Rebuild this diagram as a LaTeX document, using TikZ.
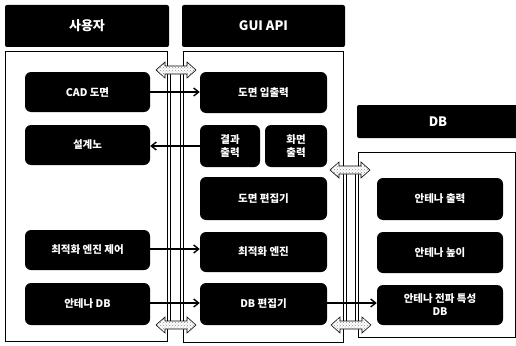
\documentclass[tikz,border=0pt]{standalone}
\usepackage{fontspec}
\setmainfont{Noto Sans CJK KR}
\usetikzlibrary{arrows.meta,patterns}
\begin{document}
\begin{tikzpicture}[x=1pt,y=-1pt,
  header/.style={fill=black,rounded corners=2pt,text=white,font=\bfseries\fontsize{13}{15}\selectfont},
  panel/.style={draw=black,line width=0.8pt},
  box/.style={fill=black,rounded corners=6pt,text=white,align=center,inner sep=1pt,font=\bfseries\fontsize{10.5}{13}\selectfont},
  bus/.style={line width=0.8pt},
  arr/.style={line width=1.4pt,-{Straight Barb[length=5pt,width=8pt]}},
  blkstyle/.style={draw=black,line width=0.6pt,fill=white,preaction={fill=white},postaction={pattern=crosshatch dots,pattern color=gray!90}},
  dblarrow/.pic={\path[blkstyle] (-20,0) -- (-11,-8) -- (-11,-4) -- (11,-4) -- (11,-8) -- (20,0) -- (11,8) -- (11,4) -- (-11,4) -- (-11,8) -- cycle;}]
\useasboundingbox (0,0) rectangle (516,345);
% headers
\node[header,minimum width=164pt,minimum height=42pt] (hu) at (87,26) {사용자};
\node[header,minimum width=163pt,minimum height=42pt] (hg) at (263.5,26) {GUI API};
\node[header,minimum width=162pt,minimum height=33pt] (hd) at (438,121.5) {DB};
% panels
\draw[panel] (5,51) rectangle (167,341);
\draw[panel] (183,51) rectangle (343,342);
\draw[panel] (358,152) rectangle (515,337);
% bus lines
\coordinate (b1t) at (170,70); \coordinate (b1b) at (170,325);
\coordinate (b2t) at (180,70); \coordinate (b2b) at (180,325);
\coordinate (b3t) at (346,170); \coordinate (b3b) at (346,325);
\coordinate (b4t) at (355,170); \coordinate (b4b) at (355,325);
\draw[bus] (b1t) -- (b1b); \draw[bus] (b2t) -- (b2b);
\draw[bus] (b3t) -- (b3b); \draw[bus] (b4t) -- (b4b);
% left nodes
\node[box,minimum width=125pt,minimum height=40pt] (cad) at (87.5,92) {CAD 도면};
\node[box,minimum width=125pt,minimum height=40pt] (sg) at (87.5,145) {설계노};
\node[box,minimum width=125pt,minimum height=40pt] (oc) at (87.5,250) {최적화 엔진 제어};
\node[box,minimum width=125pt,minimum height=42pt] (adb) at (87.5,304) {안테나 DB};
% GUI nodes
\node[box,minimum width=127pt,minimum height=41pt] (dio) at (263.5,92.5) {도면 입출력};
\node[box,minimum width=60pt,minimum height=42pt] (ro) at (230,146) {결과\\출력};
\node[box,minimum width=62pt,minimum height=42pt] (so) at (296,146) {화면\\출력};
\node[box,minimum width=127pt,minimum height=43pt] (ded) at (263.5,198.5) {도면 편집기};
\node[box,minimum width=127pt,minimum height=40pt] (oe) at (263.5,252) {최적화 엔진};
\node[box,minimum width=127pt,minimum height=42pt] (dbe) at (263.5,304) {DB 편집기};
% DB nodes
\node[box,minimum width=126pt,minimum height=42pt] (ao) at (440,199) {안테나 출력};
\node[box,minimum width=126pt,minimum height=41pt] (ah) at (440,252.5) {안테나 높이};
\node[box,minimum width=126pt,minimum height=40pt] (ap) at (440,305) {안테나 전파 특성\\DB};
% arrows
\draw[arr] (cad.east) -- (cad.east -| dio.west);
\draw[arr] (ro.west) -- (ro.west -| sg.east);
\draw[arr] (oc.east |- 0,249) -- (oe.west |- 0,249);
\draw[arr] (adb.east |- 0,303) -- (dbe.west |- 0,303);
\draw[arr] (dbe.east |- 0,303) -- (ap.west |- 0,303);
% block arrows
\pic at (176,70) {dblarrow};
\pic at (176,325) {dblarrow};
\pic at (350,170) {dblarrow};
\pic at (351,325) {dblarrow};
\end{tikzpicture}
\end{document}
